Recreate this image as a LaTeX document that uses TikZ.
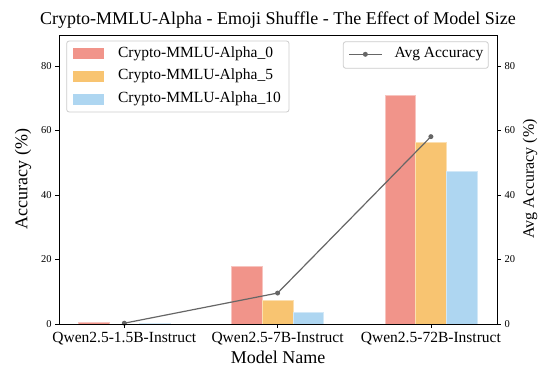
\documentclass[tikz,border=0pt]{standalone}
\usepackage{fontspec}
\setmainfont{Liberation Serif}
\usepackage{xcolor}
\usepackage{tikz}
\usetikzlibrary{positioning}

\definecolor{barred}{HTML}{F1948A}
\definecolor{barorange}{HTML}{F8C471}
\definecolor{barblue}{HTML}{AED6F1}
\definecolor{avgline}{HTML}{666666}

\tikzset{
  bar/.style={fill=#1, draw=#1!55!white, line width=0.6bp},
  ticklab/.style={inner sep=0pt, font=\fontsize{10.5bp}{12bp}\selectfont},
  catlab/.style={inner sep=0pt, font=\fontsize{15.5bp}{18bp}\selectfont},
  axlab/.style={inner sep=0pt, font=\fontsize{18bp}{21bp}\selectfont},
  sidelab/.style={inner sep=0pt, font=\fontsize{16bp}{19bp}\selectfont},
  legbox/.style={draw=black!20, fill=white, fill opacity=0.8, rounded corners=2.5bp, line width=0.8bp},
  legpatch/.style={minimum width=31.6bp, minimum height=11bp, inner sep=0pt},
  legtext/.style={inner sep=0pt, font=\fontsize{15.5bp}{18bp}\selectfont},
  dot/.style={circle, fill=avgline, inner sep=0pt, minimum size=5bp}
}

\begin{document}
\begin{tikzpicture}[x=1bp, y=1bp]
    \useasboundingbox (0,0) rectangle (545,367);

    \begin{scope}[shift={(124.3,43)}, x=153.3bp, y=3.225bp]
        % bars
        \foreach \i/\a/\b/\c in {0/0.6/0/0.15, 1/17.8/7.2/3.7, 2/70.9/56.2/47.3}{
            \path[bar=barred] (\i-0.3,0) rectangle (\i-0.1,\a);
            \path[bar=barorange] (\i-0.1,0) rectangle (\i+0.1,\b);
            \path[bar=barblue] (\i+0.1,0) rectangle (\i+0.3,\c);
        }

        % average line
        \coordinate (avgA) at (0,0.25);
        \coordinate (avgB) at (1,9.6);
        \coordinate (avgC) at (2,58.1);
        \draw[avgline, line width=1.2bp] (avgA) -- (avgB) -- (avgC);
        \node[dot] (dotA) at (avgA) {};
        \node[dot] (dotB) at (avgB) {};
        \node[dot] (dotC) at (avgC) {};

        % axes frame and ticks
        \draw[line width=0.9bp] (-0.426,0) rectangle (2.433,89.6);
        \foreach \v in {0,20,...,80}{
            \draw[line width=0.8bp] (-0.426,\v) -- ++(-3.5bp,0)
                node[ticklab, anchor=east, xshift=-3.5bp] {\v};
            \draw[line width=0.8bp] (2.433,\v) -- ++(3.5bp,0)
                node[ticklab, anchor=west, xshift=3.5bp] {\v};
        }
        \foreach \i/\lab in {0/Qwen2.5-1.5B-Instruct, 1/Qwen2.5-7B-Instruct, 2/Qwen2.5-72B-Instruct}{
            \draw[line width=0.8bp] (\i,0) -- ++(0,-3.5bp)
                node[catlab, anchor=north, yshift=-4bp] {\lab};
        }
    \end{scope}

    % title and axis labels
    \node[axlab] (title) at (278,347) {Crypto-MMLU-Alpha - Emoji Shuffle - The Effect of Model Size};
    \node[axlab] (xlab) at (278,10) {Model Name};
    \node[axlab, rotate=90] (ylab) at (23,188) {Accuracy (\%)};
    \node[sidelab, rotate=90] (ylabR) at (530,188) {Avg Accuracy (\%)};

    % left legend
    \node[legbox, minimum width=222.3bp, minimum height=71bp] (legL) at (177.85,290.5) {};
    \node[legpatch, fill=barred] (patchA) at (88.5,313.7) {};
    \node[legpatch, fill=barorange, below=11.5bp of patchA] (patchB) {};
    \node[legpatch, fill=barblue, below=11.5bp of patchB] (patchC) {};
    \node[legtext, right=13.4bp of patchA] (textA) {Crypto-MMLU-Alpha\_0};
    \node[legtext, right=13.4bp of patchB] (textB) {Crypto-MMLU-Alpha\_5};
    \node[legtext, right=13.4bp of patchC] (textC) {Crypto-MMLU-Alpha\_10};

    % right legend
    \node[legbox, minimum width=145bp, minimum height=26.6bp] (legR) at (415.8,312) {};
    \coordinate (lineS) at (349,312.7);
    \coordinate (lineE) at (381.7,312.7);
    \draw[avgline, line width=1.2bp] (lineS) -- (lineE);
    \node[dot] (dotL) at (365.35,312.7) {};
    \node[legtext, right=12.6bp of lineE] (textL) {Avg Accuracy};
\end{tikzpicture}
\end{document}
